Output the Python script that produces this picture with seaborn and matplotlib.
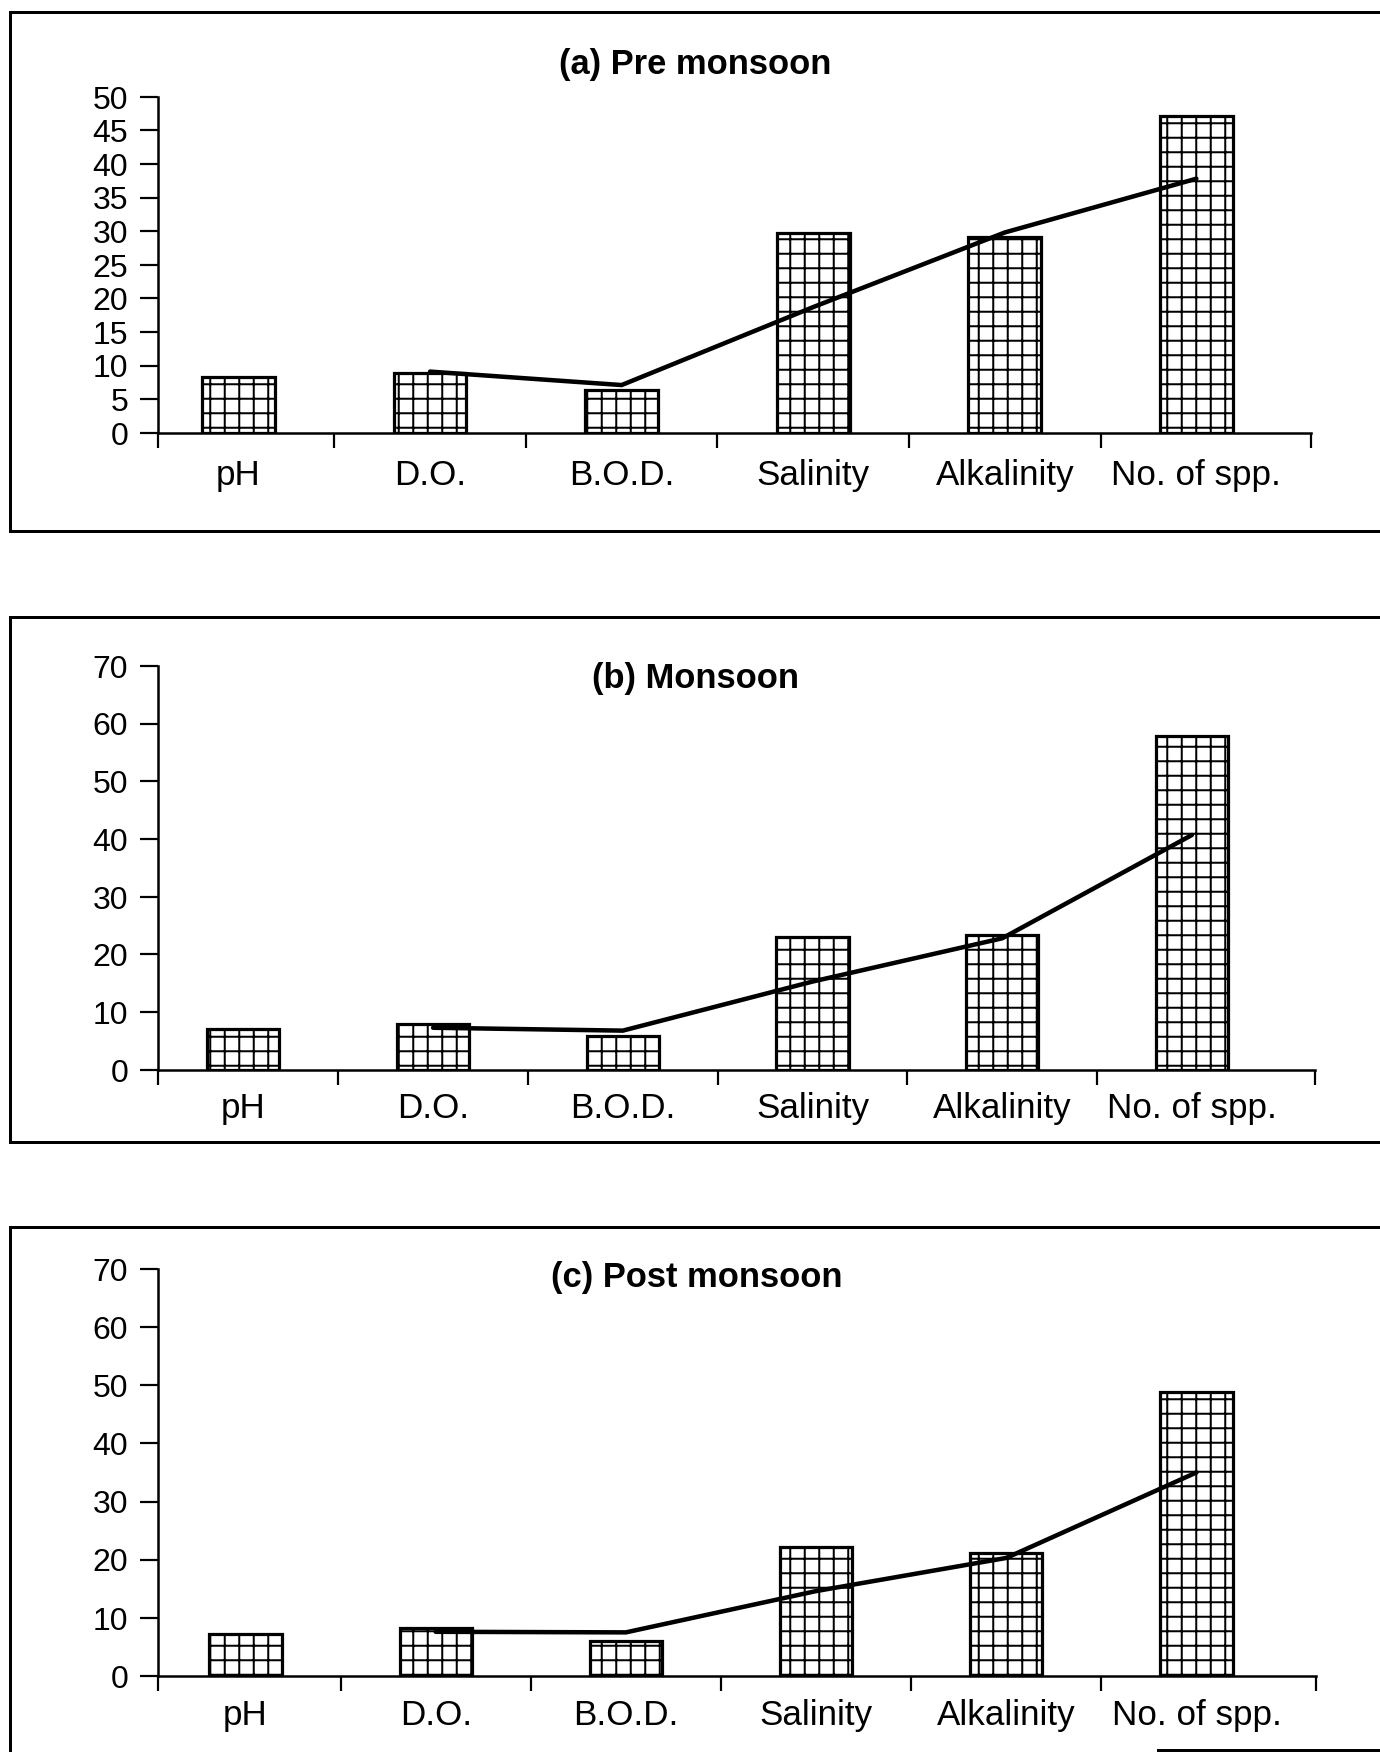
import numpy as np
import matplotlib
matplotlib.use("Agg")
import matplotlib.pyplot as plt
from matplotlib.lines import Line2D
import seaborn as sns

# ---------------- data ----------------
categories = ["pH", "D.O.", "B.O.D.", "Salinity", "Alkalinity", "No. of spp."]

pre_bars = [8.3, 8.9, 6.4, 29.7, 29.1, 47.2]
pre_line = [np.nan, 9.1, 7.1, 18.7, 29.8, 37.8]

mon_bars = [7.1, 7.9, 5.9, 23.1, 23.4, 57.8]
mon_line = [np.nan, 7.3, 6.8, 15.3, 22.8, 40.7]

post_bars = [7.2, 8.2, 6.1, 22.1, 21.2, 48.8]
post_line = [np.nan, 7.6, 7.5, 14.6, 20.3, 35.0]

titles = ["(a) Pre monsoon", "(b) Monsoon", "(c) Post monsoon"]
pre_yticks = list(range(0, 51, 5))
mon_yticks = list(range(0, 71, 10))
post_yticks = list(range(0, 71, 10))

# ---------------- style ----------------
DPI = 87
W, H = 1380, 1752
sns.set_style("ticks")
plt.rcParams["font.family"] = ["Liberation Sans", "DejaVu Sans"]
plt.rcParams["hatch.linewidth"] = 2.0 * 72 / DPI


def pt(px):
    return px * 72.0 / DPI


fig = plt.figure(figsize=((W + 0.3) / DPI, (H + 0.3) / DPI), dpi=DPI)
fig.patch.set_facecolor("white")


def rect(l, r, t, b):
    return [l / W, 1 - b / H, (r - l) / W, (b - t) / H]


layout = [
    dict(rect=rect(158, 1311, 97, 433), xlim=(-0.42, 5.60), pad=26,
         title_xy=(695, 74.3)),
    dict(rect=rect(158, 1315, 666, 1070), xlim=(-0.45, 5.65), pad=22,
         title_xy=(695, 688)),
    dict(rect=rect(158, 1316, 1269, 1676), xlim=(-0.46, 5.63), pad=23,
         title_xy=(697, 1287)),
]
series = [
    (pre_bars, pre_line, pre_yticks),
    (mon_bars, mon_line, mon_yticks),
    (post_bars, post_line, post_yticks),
]

for (bars, line, yticks), lay, title in zip(series, layout, titles):
    ax = fig.add_axes(lay["rect"])
    ax.patch.set_alpha(0)
    sns.barplot(x=categories, y=bars, order=categories, color="white",
                saturation=1, edgecolor="black", linewidth=pt(3.2),
                width=0.38, ax=ax)
    for p in ax.patches:
        p.set_hatch("+")
        p.set_facecolor("white")
        p.set_edgecolor("black")
    lv = np.array(line, dtype=float)
    mask = ~np.isnan(lv)
    xpos = np.arange(len(categories))[mask]
    sns.lineplot(x=xpos, y=lv[mask], color="black", linewidth=pt(4.5),
                 sort=False, estimator=None, ax=ax)

    xl = lay["xlim"]
    ax.set_xlim(*xl)
    ax.set_ylim(yticks[0], yticks[-1])
    ax.set_xticks([xl[0], 0.5, 1.5, 2.5, 3.5, 4.5, xl[1]])
    ax.set_xticklabels([])
    ax.set_xticks(np.arange(len(categories)), minor=True)
    ax.set_xticklabels(categories, minor=True)
    ax.set_yticks(yticks)
    ax.set_yticklabels([str(v) for v in yticks])
    ax.tick_params(axis="x", which="major", direction="out", length=pt(15),
                   width=pt(2.2), color="black")
    ax.tick_params(axis="x", which="minor", length=0, pad=pt(lay["pad"]),
                   labelsize=pt(35), labelcolor="black")
    ax.tick_params(axis="y", which="major", direction="out", length=pt(18),
                   width=pt(2.2), pad=pt(12), labelsize=pt(32),
                   labelcolor="black", color="black")
    ax.set_xlabel("")
    ax.set_ylabel("")
    for s in ["top", "right"]:
        ax.spines[s].set_visible(False)
    for s in ["left", "bottom"]:
        ax.spines[s].set_linewidth(pt(2.5))
        ax.spines[s].set_color("black")
    leg = ax.get_legend()
    if leg is not None:
        leg.remove()

    tx, ty = lay["title_xy"]
    fig.text(tx / W, 1 - ty / H, title, ha="center", va="baseline",
             fontsize=pt(34.5), fontweight="bold", color="black")


def fline(x0, y0, x1, y1):
    fig.add_artist(Line2D([x0 / W, x1 / W], [1 - y0 / H, 1 - y1 / H],
                          transform=fig.transFigure, color="black",
                          linewidth=pt(3), solid_capstyle="projecting"))


# panel frames (right side cut off as in the scan)
fline(10, 12, 1380, 12)
fline(10, 12, 10, 531)
fline(10, 531, 1380, 531)
fline(10, 617, 1380, 617)
fline(10, 617, 10, 1142)
fline(10, 1142, 1380, 1142)
fline(10, 1227, 1380, 1227)
fline(10, 1227, 10, 1752)
fline(1158, 1750, 1380, 1750)

fig.savefig("out.png", dpi=DPI, facecolor="white")
